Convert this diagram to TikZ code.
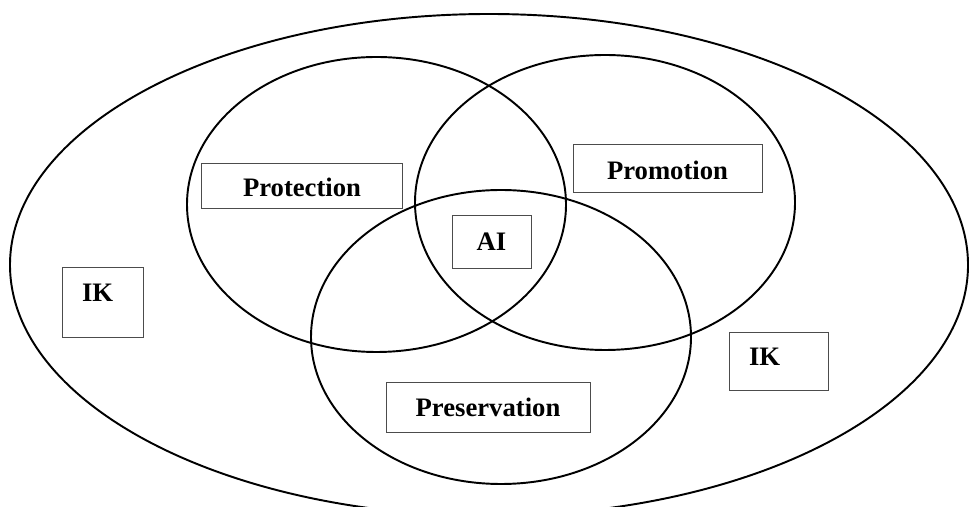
\documentclass[tikz,border=0pt]{standalone}
\usepackage{fontspec}
\setmainfont{Liberation Serif}
\usepackage{tikz}

\begin{document}
\begin{tikzpicture}[x=0.75pt, y=0.75pt,
    ring/.style = {black, line width=1.45pt},
    tbox/.style = {draw=black!70, line width=0.6pt, fill=white, inner sep=0pt,
                   font=\fontsize{20}{24}\selectfont\bfseries},
    lbox/.style = {tbox, align=left, inner xsep=15pt}]
    \clip (0,0) rectangle (969,506);
    \fill[white] (0,0) rectangle (969,506);
    %
    \draw [ring] (489,241) ellipse [x radius=479, y radius=251]; % outer IK
    \draw [ring] (376.5,301.5) ellipse [x radius=189.5, y radius=147.5]; % Protection
    \draw [ring] (605,303.5) ellipse [x radius=190, y radius=147.5]; % Promotion
    \draw [ring] (501,169) ellipse [x radius=190, y radius=147]; % Preservation
    %
    \node[tbox, minimum width=150.75pt, minimum height=33.75pt, text height=16.4pt] (protect) at (302,320.5) {Protection};
    \node[tbox, minimum width=141.75pt, minimum height=36pt, text height=17.5pt] (promote) at (667.5,338) {Promotion};
    \node[tbox, minimum width=59.25pt, minimum height=39.75pt] (ai) at (491.5,264.5) {AI};
    \node[lbox, text width=30.75pt, minimum height=52.5pt, text depth=14pt] (ikleft) at (102.5,204) {IK};
    \node[lbox, text width=44.25pt, minimum height=43.5pt, text depth=7pt] (ikright) at (778.5,145) {IK};
    \node[tbox, minimum width=153pt, minimum height=37.5pt] (preserve) at (488,99) {Preservation};
\end{tikzpicture}
\end{document}
